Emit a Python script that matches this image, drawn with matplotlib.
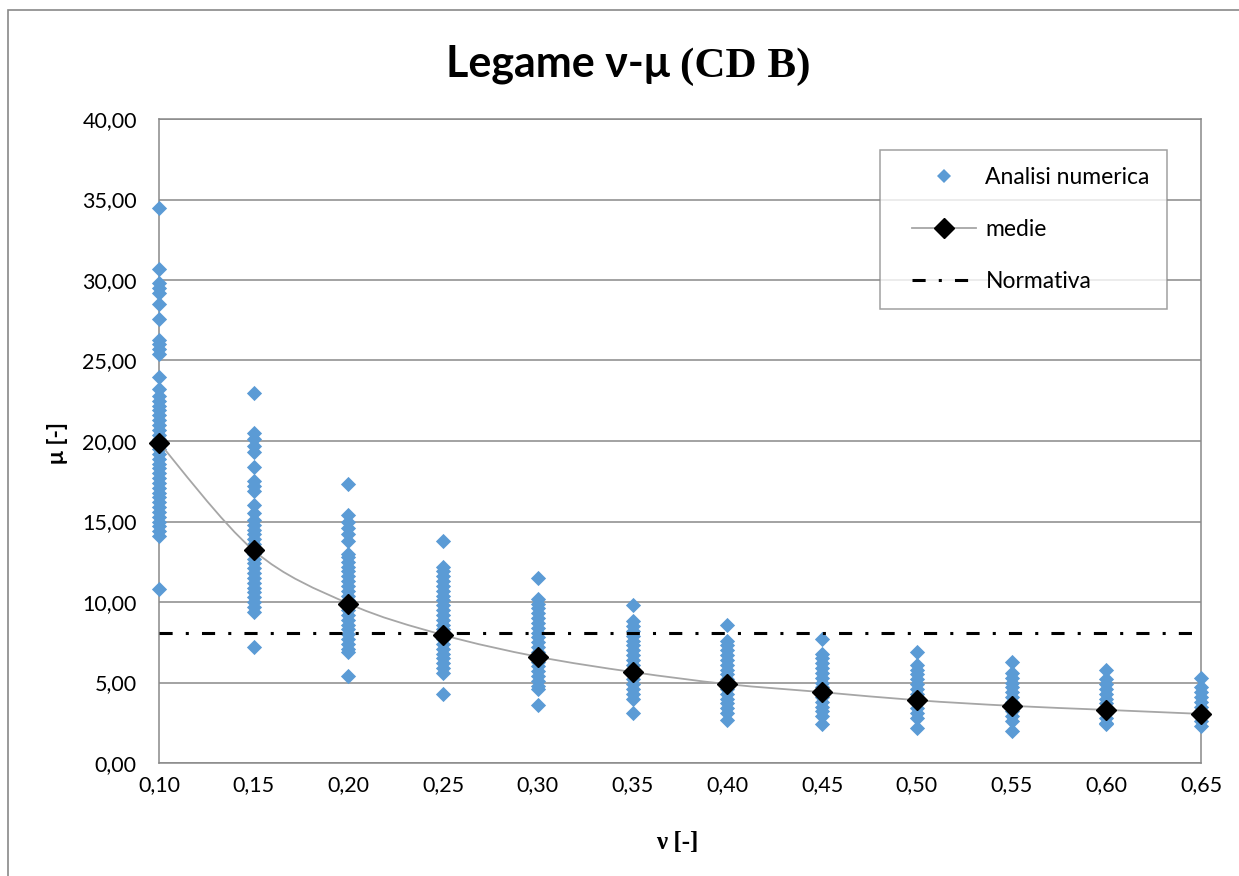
import matplotlib
matplotlib.use('Agg')
import matplotlib.pyplot as plt
from matplotlib.path import Path
from matplotlib.patches import PathPatch, Rectangle
from matplotlib.lines import Line2D
from matplotlib.legend_handler import HandlerLine2D
import numpy as np

# ---------------- data ----------------
nu_values = [0.10, 0.15, 0.20, 0.25, 0.30, 0.35, 0.40, 0.45, 0.50, 0.55, 0.60, 0.65]
x_tick_labels = ['0,10', '0,15', '0,20', '0,25', '0,30', '0,35', '0,40', '0,45',
                 '0,50', '0,55', '0,60', '0,65']
y_ticks = [0, 5, 10, 15, 20, 25, 30, 35, 40]
y_tick_labels = ['0,00', '5,00', '10,00', '15,00', '20,00', '25,00', '30,00', '35,00', '40,00']

mu_nu010 = [34.5, 30.7, 29.8, 29.5, 29.2, 28.5, 27.6, 26.3, 26.0, 25.7, 25.4, 24.0,
            23.2, 22.8, 22.5, 22.2, 21.9, 21.6, 21.3, 21.0, 20.7, 20.4, 20.1, 19.8,
            19.5, 19.2, 18.9, 18.6, 18.3, 18.0, 17.7, 17.4, 17.1, 16.8, 16.5, 16.2,
            15.9, 15.6, 15.3, 15.0, 14.7, 14.4, 14.1, 10.8]
mu_nu015 = [23.0, 20.5, 20.1, 19.7, 19.3, 18.4, 17.5, 17.2, 16.9, 16.0, 15.5, 15.1,
            14.8, 14.5, 14.2, 13.9, 13.6, 13.3, 13.0, 12.7, 12.4, 12.1, 11.8, 11.5,
            11.2, 10.9, 10.6, 10.3, 10.0, 9.7, 9.4, 7.2]
mu_nu020 = [17.3, 15.4, 15.0, 14.6, 14.2, 13.8, 13.0, 12.8, 12.5, 12.2, 11.9, 11.6,
            11.3, 11.0, 10.7, 10.4, 10.1, 9.8, 9.5, 9.2, 8.9, 8.6, 8.3, 8.0, 7.7,
            7.4, 7.1, 6.9, 5.4]
mu_nu025 = [13.8, 12.2, 11.9, 11.6, 11.3, 11.0, 10.7, 10.4, 10.1, 9.8, 9.5, 9.2, 8.9,
            8.6, 8.3, 8.0, 7.7, 7.4, 7.1, 6.8, 6.5, 6.2, 5.9, 5.6, 4.3]
mu_nu030 = [11.5, 10.2, 9.9, 9.6, 9.3, 9.0, 8.7, 8.4, 8.1, 7.8, 7.5, 7.2, 6.9, 6.6,
            6.3, 6.0, 5.7, 5.4, 5.1, 4.8, 4.6, 3.6]
mu_nu035 = [9.8, 8.8, 8.5, 8.2, 7.9, 7.6, 7.3, 7.0, 6.7, 6.4, 6.1, 5.8, 5.5, 5.2, 4.9,
            4.6, 4.3, 4.0, 3.1]
mu_nu040 = [8.6, 7.6, 7.3, 7.0, 6.7, 6.4, 6.1, 5.8, 5.5, 5.2, 4.9, 4.6, 4.3, 4.0, 3.7,
            3.4, 3.1, 2.7]
mu_nu045 = [7.7, 6.8, 6.5, 6.2, 5.9, 5.6, 5.3, 5.0, 4.7, 4.4, 4.1, 3.8, 3.5, 3.2, 2.9, 2.4]
mu_nu050 = [6.9, 6.1, 5.8, 5.5, 5.2, 4.9, 4.6, 4.3, 4.0, 3.7, 3.4, 3.1, 2.8, 2.2]
mu_nu055 = [6.3, 5.6, 5.3, 5.0, 4.7, 4.4, 4.1, 3.8, 3.5, 3.2, 2.9, 2.6, 2.0]
mu_nu060 = [5.8, 5.2, 4.9, 4.6, 4.3, 4.0, 3.7, 3.4, 3.1, 2.8, 2.5, 2.4]
mu_nu065 = [5.3, 4.7, 4.4, 4.1, 3.8, 3.5, 3.2, 2.9, 2.6, 2.3]

mu_means = [19.9, 13.2, 9.9, 7.95, 6.6, 5.65, 4.9, 4.4, 3.9, 3.55, 3.3, 3.05]
mu_normativa = 8.07

columns = [mu_nu010, mu_nu015, mu_nu020, mu_nu025, mu_nu030, mu_nu035,
           mu_nu040, mu_nu045, mu_nu050, mu_nu055, mu_nu060, mu_nu065]

# ---------------- style ----------------
BLUE = '#5B9BD5'
GRID = '#898989'
MEANLINE = '#A6A6A6'
SANS = ['Lato', 'DejaVu Sans']
SERIF = ['Liberation Serif', 'DejaVu Serif']

W, H = 1239, 876
fig = plt.figure(figsize=(W / 100, H / 100), dpi=100)
fig.patch.set_facecolor('white')

# outer chart border
fig.patches.append(Rectangle((8 / W, -0.1), 1.2, 1 - 10 / H + 0.1, transform=fig.transFigure,
                             fill=False, edgecolor=GRID, linewidth=1.2))

ax = fig.add_axes([159 / W, 1 - 763 / H, (1201 - 159) / W, (763 - 119) / H])
ax.set_xlim(nu_values[0], nu_values[-1])
ax.set_ylim(0, 40)
ax.set_xticks(nu_values)
ax.set_xticklabels(x_tick_labels, family=SANS, fontsize=15.5)
ax.set_yticks(y_ticks)
ax.set_yticklabels(y_tick_labels, family=SANS, fontsize=15.5)
ax.tick_params(axis='both', length=0)
ax.tick_params(axis='x', pad=9)
ax.tick_params(axis='y', pad=16)
ax.yaxis.grid(True, color=GRID, linewidth=1.1)
ax.set_axisbelow(True)
for s in ax.spines.values():
    s.set_color(GRID)
    s.set_linewidth(1.1)

# scatter columns
for nu, vals in zip(nu_values, columns):
    ax.scatter([nu] * len(vals), vals, marker='D', s=60, color=BLUE, linewidths=0,
               clip_on=False, zorder=3)

# smooth mean line (Catmull-Rom as cubic Bezier path)
xs = np.array(nu_values)
ys = np.array(mu_means)
verts = [(xs[0], ys[0])]
codes = [Path.MOVETO]
n = len(xs)
for i in range(n - 1):
    p0 = np.array([xs[max(i - 1, 0)], ys[max(i - 1, 0)]])
    p1 = np.array([xs[i], ys[i]])
    p2 = np.array([xs[i + 1], ys[i + 1]])
    p3 = np.array([xs[min(i + 2, n - 1)], ys[min(i + 2, n - 1)]])
    c1 = p1 + (p2 - p0) / 6.0
    c2 = p2 - (p3 - p1) / 6.0
    verts += [tuple(c1), tuple(c2), tuple(p2)]
    codes += [Path.CURVE4] * 3
ax.add_patch(PathPatch(Path(verts, codes), fill=False, edgecolor=MEANLINE,
                       linewidth=1.3, zorder=4, clip_on=False))
ax.plot(nu_values, mu_means, linestyle='none', marker='D', markersize=10.2,
        color='black', zorder=5, clip_on=False)

# normativa
dash_pat = (4.3, 4.3, 1.0, 4.3)
ax.plot([nu_values[0], nu_values[-1]], [mu_normativa, mu_normativa], color='black',
        linewidth=2.2, dashes=dash_pat, zorder=4, solid_capstyle='butt',
        dash_capstyle='butt')

# legend
h_scatter = Line2D([], [], linestyle='none', marker='D', markersize=7.0, color=BLUE,
                   markeredgewidth=0)
h_mean = Line2D([], [], color=MEANLINE, linewidth=1.3, marker='D', markersize=10.2,
                markerfacecolor='black', markeredgecolor='black')
h_norm = Line2D([], [], color='black', linewidth=2.2, dashes=dash_pat, dash_capstyle='butt')
hmap = {h: HandlerLine2D(xpad=0.65) for h in (h_scatter, h_mean, h_norm)}
leg = fig.legend([h_scatter, h_mean, h_norm], ['Analisi numerica', 'medie', 'Normativa'],
                 loc='upper left', bbox_to_anchor=(880 / W, 1 - 150 / H),
                 prop={'family': SANS, 'size': 16.5}, frameon=True, fancybox=False,
                 edgecolor=GRID, borderpad=0.75, labelspacing=1.34, handlelength=3.45,
                 handletextpad=0.4, numpoints=1, borderaxespad=0, handler_map=hmap)
leg.get_frame().set_linewidth(1.1)

# axis labels
fig.text(677 / W, 1 - 842 / H, 'ν [-]', family=SERIF, fontweight='bold', fontsize=18,
         ha='center', va='center')
fig.text(58 / W, 1 - 443 / H, 'μ [-]', family=SANS, fontweight='bold', fontsize=16.5,
         ha='center', va='center', rotation=90)

# title: sans part + serif part
renderer = fig.canvas.get_renderer()
t1 = fig.text(0, 1 - 77 / H, 'Legame ν-μ ', family=SANS, fontweight='bold', fontsize=31,
              ha='left', va='baseline')
t2 = fig.text(0, 1 - 77 / H, '(CD B)', family=SERIF, fontweight='bold', fontsize=31,
              ha='left', va='baseline')
w1 = t1.get_window_extent(renderer).width
w2 = t2.get_window_extent(renderer).width
cx = 628
x0 = cx - (w1 + w2) / 2
t1.set_x(x0 / W)
t2.set_x((x0 + w1) / W)

fig.savefig('out.png', dpi=100, facecolor='white')
